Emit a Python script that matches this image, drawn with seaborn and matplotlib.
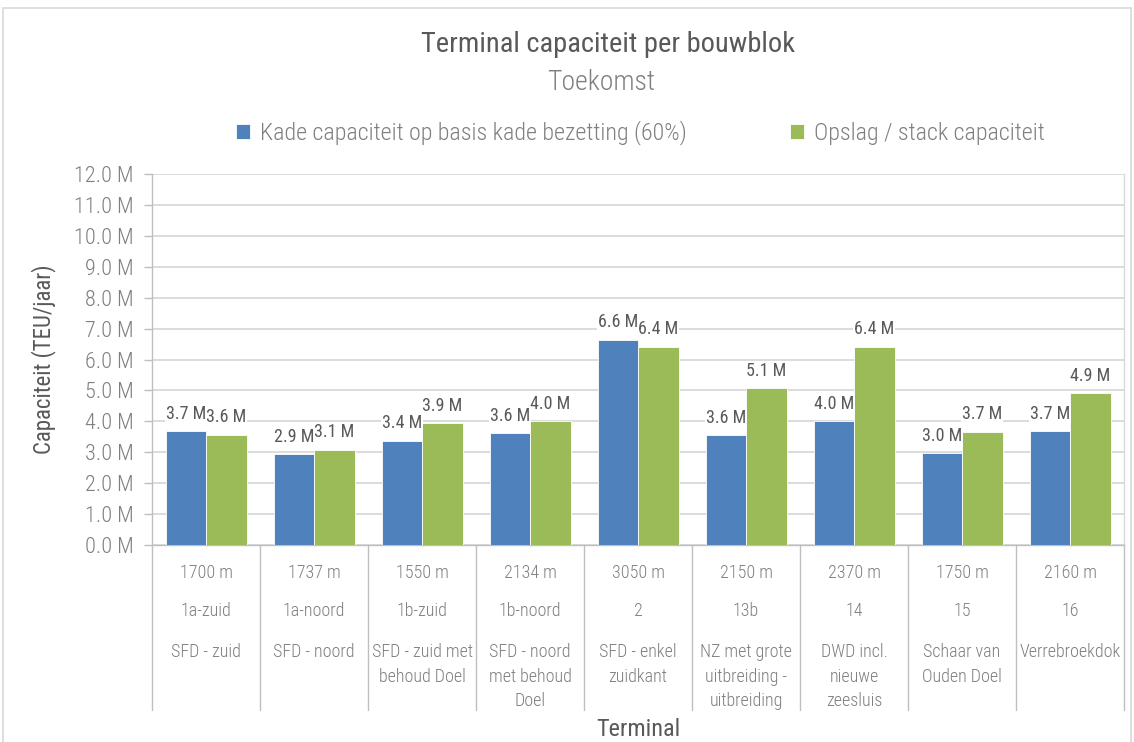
import matplotlib
matplotlib.use("Agg")
import matplotlib.pyplot as plt
import matplotlib.transforms as mtransforms
from matplotlib import font_manager
from matplotlib.patches import Rectangle
import seaborn as sns
import pandas as pd

# ---------------- data ----------------
lengths = ["1700 m", "1737 m", "1550 m", "2134 m", "3050 m", "2150 m", "2370 m", "1750 m", "2160 m"]
codes = ["1a-zuid", "1a-noord", "1b-zuid", "1b-noord", "2", "13b", "14", "15", "16"]
names = ["SFD - zuid", "SFD - noord", "SFD - zuid met\nbehoud Doel", "SFD - noord\nmet behoud\nDoel",
         "SFD - enkel\nzuidkant", "NZ met grote\nuitbreiding -\nuitbreiding", "DWD incl.\nnieuwe\nzeesluis",
         "Schaar van\nOuden Doel", "Verrebroekdok"]
kade = [3.68, 2.93, 3.37, 3.61, 6.64, 3.56, 4.01, 2.96, 3.68]
opslag = [3.57, 3.08, 3.94, 4.01, 6.42, 5.07, 6.42, 3.66, 4.91]
series_names = ["Kade capaciteit op basis kade bezetting (60%)", "Opslag / stack capaciteit"]
yticks = [0, 1, 2, 3, 4, 5, 6, 7, 8, 9, 10, 11, 12]

# ---------------- fonts ----------------
available = {f.name for f in font_manager.fontManager.ttflist}
font = "Roboto"
for cand in ["Roboto Condensed", "Liberation Sans Narrow", "Roboto"]:
    if cand in available:
        font = cand
        break

sns.set_theme(style="white")
plt.rcParams["font.family"] = [font, "DejaVu Sans"]

df = pd.DataFrame({
    "Terminal": codes * 2,
    "Serie": [series_names[0]] * len(codes) + [series_names[1]] * len(codes),
    "Waarde": kade + opslag,
})

W, H = 1134, 742
fig = plt.figure(figsize=(W / 100, H / 100), dpi=100)
L, R, B, T = 152, 1124, 545, 174
ax = fig.add_axes([L / W, (H - B) / H, (R - L) / W, (B - T) / H])

palette = {series_names[0]: "#4F81BD", series_names[1]: "#9BBB59"}
sns.barplot(data=df, x="Terminal", y="Waarde", hue="Serie", order=codes, hue_order=series_names,
            palette=palette, width=0.75, edgecolor="white", linewidth=0.6, saturation=1,
            ax=ax, legend=True, zorder=3)

ax.set_xlim(-0.5, len(codes) - 0.5)
ax.set_ylim(0, 12)
ax.set_yticks(yticks)
ax.set_yticklabels([f"{v:.1f} M" for v in yticks], color="#7F7F7F", fontsize=16, fontweight="light")
ax.set_xticks([])
ax.set_xlabel("")
ax.set_ylabel("Capaciteit (TEU/jaar)", fontsize=16.5, color="#595959", labelpad=13)
ax.yaxis.grid(True, color="#D9D9D9", linewidth=1.3, zorder=0)
ax.set_axisbelow(True)
ax.tick_params(axis="y", which="major", left=True, length=6, width=1, color="#BFBFBF", pad=7)
for side in ["left", "bottom"]:
    ax.spines[side].set_color("#BFBFBF")
    ax.spines[side].set_linewidth(1)
ax.spines["top"].set_visible(False)
ax.spines["right"].set_color("#D9D9D9")
ax.spines["right"].set_linewidth(1)

# data labels (first series drawn on top so overlapping labels stay readable)
for k, cont in enumerate(ax.containers):
    for rect in cont:
        h = rect.get_height()
        ax.annotate(f"{h:.1f} M", xy=(rect.get_x() + rect.get_width() / 2, h),
                    xytext=(0, 12.5), textcoords="offset points", ha="center", va="center",
                    fontsize=13, color="#595959", fontweight="normal", zorder=6 - k,
                    bbox=dict(boxstyle="square,pad=0.05", fc="white", ec="none"))

# multi-level category axis
px = 72 / 100
trans = mtransforms.blended_transform_factory(ax.transData, ax.transAxes)
for i in range(len(codes) + 1):
    ax.plot([i - 0.5, i - 0.5], [0, -(710 - B) / (B - T)], transform=trans, color="#BFBFBF",
            linewidth=1, clip_on=False, zorder=1)
cat_kw = dict(xycoords=trans, textcoords="offset points", ha="center", fontsize=13,
              color="#7F7F7F", fontweight="light", annotation_clip=False)
for i in range(len(codes)):
    ax.annotate(lengths[i], xy=(i, 0), xytext=(0, -(573 - B) * px), va="center", **cat_kw)
    ax.annotate(codes[i], xy=(i, 0), xytext=(0, -(611 - B) * px), va="center", **cat_kw)
    ax.annotate(names[i], xy=(i, 0), xytext=(0, -(643 - B) * px), va="top", linespacing=1.47, **cat_kw)

fig.text(638 / W, 1 - 729 / H, "Terminal", ha="center", va="center", fontsize=17.5, color="#595959")

# titles
fig.text(608 / W, 1 - 45 / H, "Terminal capaciteit per bouwblok", ha="center", va="center",
         fontsize=20.5, color="#595959")
fig.text(601 / W, 1 - 82 / H, "Toekomst", ha="center", va="center", fontsize=20, color="#7F7F7F",
         fontweight="light")

# legend
handles, labels = ax.get_legend_handles_labels()
ax.get_legend().remove()
fig.legend(handles, labels, loc="center", bbox_to_anchor=(640 / W, 1 - 133 / H), ncol=2,
           frameon=False, prop=dict(size=17.3, weight="light"), handlelength=0.6, handleheight=0.6,
           handletextpad=0.4, columnspacing=4.3, labelcolor="#7F7F7F")

# chart area border
fig.patches.append(Rectangle((3 / W, -0.01), (W - 6) / W, (H - 8) / H + 0.01, transform=fig.transFigure,
                             fill=False, edgecolor="#D9D9D9", linewidth=1.2))

fig.savefig("out.png", dpi=100, facecolor="white")
